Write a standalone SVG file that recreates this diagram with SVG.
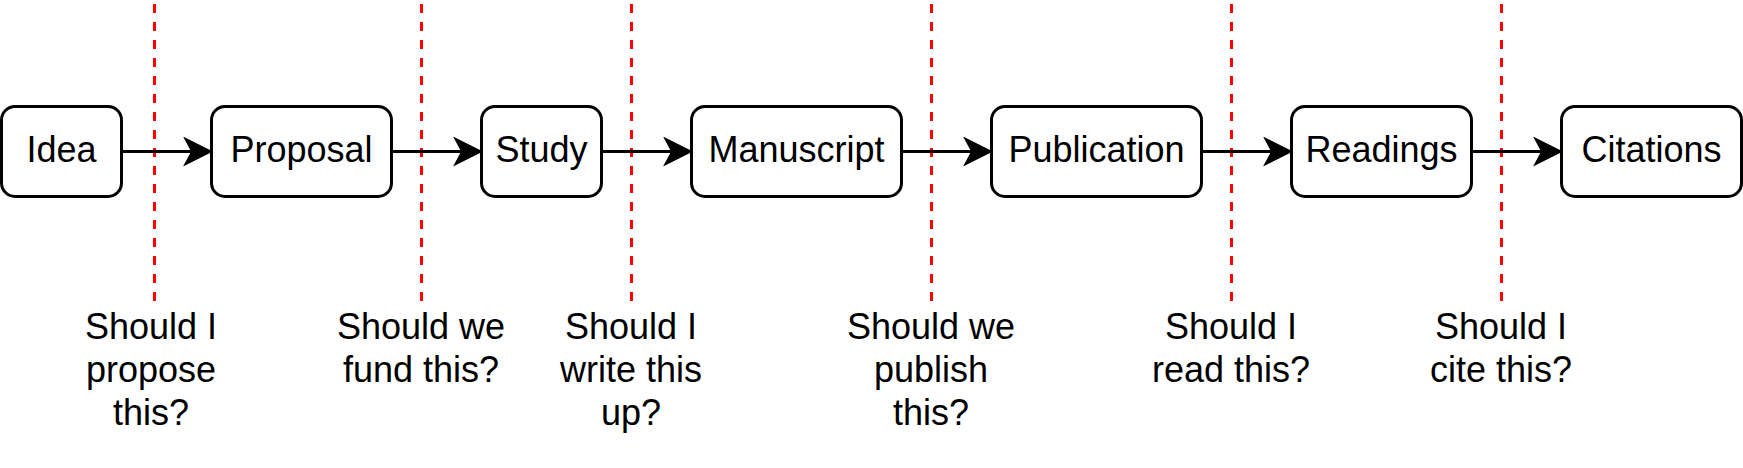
<svg xmlns="http://www.w3.org/2000/svg" width="1743" height="468" viewBox="0 0 1743 468">
<style>
.box{fill:#fff;stroke:#000;stroke-width:3}
.lbl{font-family:"Liberation Sans",Arial,sans-serif;font-size:36px;fill:#000;text-anchor:middle}
.edge{stroke:#000;stroke-width:3;fill:none}
.cut{stroke:#ff0000;stroke-width:3;stroke-dasharray:9 9;fill:none}
</style>
<defs>
<marker id="arr" markerUnits="userSpaceOnUse" markerWidth="30" markerHeight="30" viewBox="0 0 26 26" refX="16" refY="13" orient="auto">
<path d="M0,0 L26,13 L0,26 L7,13 Z" fill="#000"/>
</marker>
</defs>
<rect width="1743" height="468" fill="#fff"/>
<g id="cuts">
<line class="cut" x1="154.5" y1="4" x2="154.5" y2="302"/>
<line class="cut" x1="421.5" y1="4" x2="421.5" y2="302"/>
<line class="cut" x1="631.5" y1="4" x2="631.5" y2="302"/>
<line class="cut" x1="931.5" y1="4" x2="931.5" y2="302"/>
<line class="cut" x1="1231.5" y1="4" x2="1231.5" y2="302"/>
<line class="cut" x1="1501.5" y1="4" x2="1501.5" y2="302"/>
</g>
<g id="connectors">
<line class="edge" x1="121.5" y1="151.5" x2="201.5" y2="151.5" marker-end="url(#arr)"/>
<line class="edge" x1="391.5" y1="151.5" x2="471.5" y2="151.5" marker-end="url(#arr)"/>
<line class="edge" x1="601.5" y1="151.5" x2="681.5" y2="151.5" marker-end="url(#arr)"/>
<line class="edge" x1="901.5" y1="151.5" x2="981.5" y2="151.5" marker-end="url(#arr)"/>
<line class="edge" x1="1201.5" y1="151.5" x2="1281.5" y2="151.5" marker-end="url(#arr)"/>
<line class="edge" x1="1471.5" y1="151.5" x2="1551.5" y2="151.5" marker-end="url(#arr)"/>
</g>
<g id="idea"><rect class="box" x="1.5" y="106.5" width="120" height="90" rx="13.5"/><text class="lbl" x="61.5" y="162">Idea</text></g>
<g id="proposal"><rect class="box" x="211.5" y="106.5" width="180" height="90" rx="13.5"/><text class="lbl" x="301.5" y="162">Proposal</text></g>
<g id="study"><rect class="box" x="481.5" y="106.5" width="120" height="90" rx="13.5"/><text class="lbl" x="541.5" y="162">Study</text></g>
<g id="manuscript"><rect class="box" x="691.5" y="106.5" width="210" height="90" rx="13.5"/><text class="lbl" x="796.5" y="162">Manuscript</text></g>
<g id="publication"><rect class="box" x="991.5" y="106.5" width="210" height="90" rx="13.5"/><text class="lbl" x="1096.5" y="162">Publication</text></g>
<g id="readings"><rect class="box" x="1291.5" y="106.5" width="180" height="90" rx="13.5"/><text class="lbl" x="1381.5" y="162">Readings</text></g>
<g id="citations"><rect class="box" x="1561.5" y="106.5" width="180" height="90" rx="13.5"/><text class="lbl" x="1651.5" y="162">Citations</text></g>
<g id="q1"><text class="lbl" y="339"><tspan x="151">Should I</tspan><tspan x="151" y="382">propose</tspan><tspan x="151" y="425">this?</tspan></text></g>
<g id="q2"><text class="lbl" y="339"><tspan x="421">Should we</tspan><tspan x="421" y="382">fund this?</tspan></text></g>
<g id="q3"><text class="lbl" y="339"><tspan x="631">Should I</tspan><tspan x="631" y="382">write this</tspan><tspan x="631" y="425">up?</tspan></text></g>
<g id="q4"><text class="lbl" y="339"><tspan x="931">Should we</tspan><tspan x="931" y="382">publish</tspan><tspan x="931" y="425">this?</tspan></text></g>
<g id="q5"><text class="lbl" y="339"><tspan x="1231">Should I</tspan><tspan x="1231" y="382">read this?</tspan></text></g>
<g id="q6"><text class="lbl" y="339"><tspan x="1501">Should I</tspan><tspan x="1501" y="382">cite this?</tspan></text></g>
</svg>
